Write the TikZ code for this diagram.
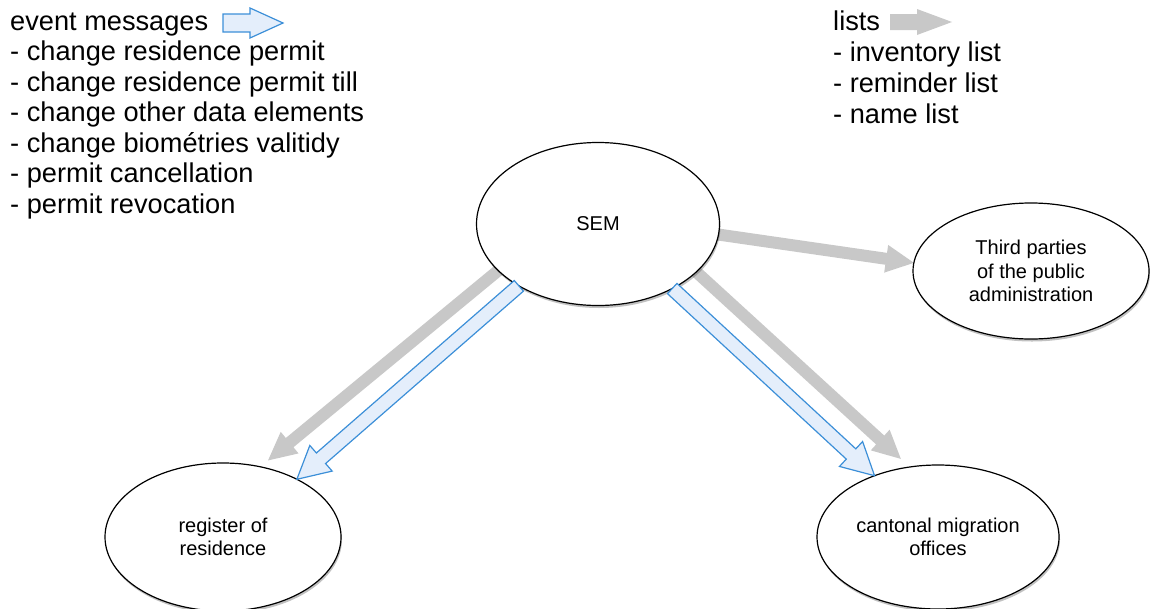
\documentclass[tikz,border=0pt]{standalone}
\usepackage{fontspec}
\setmainfont{Liberation Sans}
\usetikzlibrary{shapes.geometric,calc,shadows,backgrounds}
\definecolor{listgray}{HTML}{C8C8C8}
\definecolor{eventblue}{HTML}{3C8FD8}
\definecolor{eventfill}{HTML}{E4EEFB}
\newcommand{\fatarrow}[6][]{%
	\path (#6) coordinate (fa tip) ($(fa tip)!#4!(#5)$) coordinate (fa base);
	\draw[#1] ($(#5)!#2!90:(fa tip)$) -- ($(fa base)!#2!-90:(#5)$) -- ($(fa base)!#3!-90:(#5)$) -- (fa tip)
		-- ($(fa base)!#3!90:(#5)$) -- ($(fa base)!#2!90:(#5)$) -- ($(#5)!#2!-90:(fa tip)$) -- cycle;}
\tikzset{
	place/.style={ellipse, draw, line width=1.2pt, fill=white, inner sep=0pt, outer sep=0pt, align=center,
		font=\fontsize{20}{23.5}\selectfont,
		drop shadow={shadow xshift=1pt, shadow yshift=-2.5pt, opacity=.35, fill=black!70}},
	item/.style={anchor=base west, inner sep=0pt, font=\fontsize{27.2}{31}\selectfont},
	list/.style={fill=listgray, draw=none},
	event/.style={fill=eventfill, draw=eventblue, line width=1.2pt}
}

\begin{document}
\begin{tikzpicture}[x=1pt,y=-1pt]
	\useasboundingbox (0,0) rectangle (1150,608);
	\node[place, minimum width=243pt, minimum height=163pt] (sem) at (598,224) {SEM};
	\node[place, minimum width=236pt, minimum height=136pt] (third) at (1031,271) {Third parties\\of the public\\administration};
	\node[place, minimum width=236pt, minimum height=148pt] (reg) at (223,537) {register of\\residence};
	\node[place, minimum width=242pt, minimum height=144pt] (cant) at (938,537) {cantonal migration\\offices};
	\begin{scope}[on background layer]
		\fatarrow[list]{6pt}{14pt}{28pt}{sem.-5}{third.176}
		\fatarrow[list]{6pt}{14pt}{28pt}{sem.205}{$(reg.62)!10pt!(sem.205)$}
		\fatarrow[list]{6pt}{14pt}{28pt}{sem.-26}{$(cant.112)!12pt!(sem.-26)$}
	\end{scope}
	\fatarrow[event]{7pt}{17pt}{32pt}{sem.218.5}{reg.38.7}
	\fatarrow[event]{7pt}{17pt}{32pt}{sem.-41}{cant.136}
	\foreach \t [count=\i from 0] in {event messages, - change residence permit, - change residence permit till,
		- change other data elements, - change biométries valitidy, - permit cancellation, - permit revocation}
		\node[item] (ev\i) at (10,{30+30.5*\i}) {\t};
	\foreach \t [count=\i from 0] in {lists, - inventory list, - reminder list, - name list}
		\node[item] (li\i) at (833,{30+31*\i}) {\t};
	\coordinate (evkey a) at (223,23);
	\coordinate (evkey b) at (283,23);
	\coordinate (likey a) at (890,22);
	\coordinate (likey b) at (952,22);
	\fatarrow[event]{9pt}{15pt}{33pt}{evkey a}{evkey b}
	\fatarrow[list]{8pt}{13pt}{35pt}{likey a}{likey b}
\end{tikzpicture}
\end{document}
